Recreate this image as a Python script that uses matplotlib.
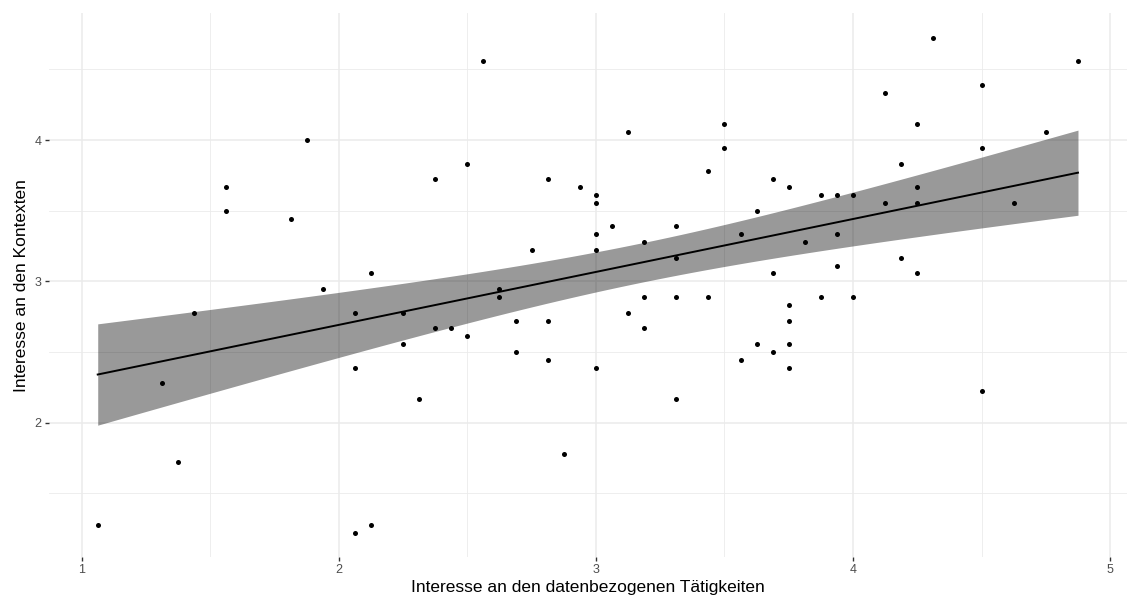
import numpy as np
import matplotlib
matplotlib.use("Agg")
import matplotlib.pyplot as plt

# Interesse an den datenbezogenen Taetigkeiten (x) / Interesse an den Kontexten (y)
x_vals = [1.0625, 1.3125, 1.375, 1.4375, 1.5625, 1.5625, 1.8125, 1.875, 1.9375,
          2.0625, 2.0625, 2.0625, 2.125, 2.125, 2.25, 2.25, 2.3125, 2.375, 2.375,
          2.4375, 2.5, 2.5, 2.5625, 2.625, 2.625, 2.6875, 2.6875, 2.75, 2.8125,
          2.8125, 2.8125, 2.875, 2.9375, 3.0, 3.0, 3.0, 3.0, 3.0, 3.0625, 3.125,
          3.125, 3.1875, 3.1875, 3.1875, 3.3125, 3.3125, 3.3125, 3.3125, 3.4375,
          3.4375, 3.5, 3.5, 3.5625, 3.5625, 3.625, 3.625, 3.6875, 3.6875, 3.6875,
          3.75, 3.75, 3.75, 3.75, 3.75, 3.8125, 3.875, 3.875, 3.9375, 3.9375,
          3.9375, 4.0, 4.0, 4.125, 4.125, 4.1875, 4.1875, 4.25, 4.25, 4.25, 4.25,
          4.3125, 4.5, 4.5, 4.5, 4.625, 4.75, 4.875]
y_vals = [1.278, 2.278, 1.722, 2.778, 3.667, 3.5, 3.444, 4.0, 2.944,
          2.778, 2.389, 1.222, 3.056, 1.278, 2.778, 2.556, 2.167, 3.722, 2.667,
          2.667, 3.833, 2.611, 4.556, 2.944, 2.889, 2.722, 2.5, 3.222, 3.722,
          2.722, 2.444, 1.778, 3.667, 3.611, 3.556, 3.333, 3.222, 2.389, 3.389, 4.056,
          2.778, 3.278, 2.889, 2.667, 3.389, 3.167, 2.889, 2.167, 3.778,
          2.889, 4.111, 3.944, 3.333, 2.444, 3.5, 2.556, 3.722, 3.056, 2.5,
          3.667, 2.833, 2.722, 2.556, 2.389, 3.278, 3.611, 2.889, 3.611, 3.333,
          3.111, 3.611, 2.889, 4.333, 3.556, 3.833, 3.167, 4.111, 3.667, 3.556, 3.056,
          4.722, 4.389, 3.944, 2.222, 3.556, 4.056, 4.556]

x_ticks = [1, 2, 3, 4, 5]
y_ticks = [2, 3, 4]

x = np.array(x_vals)
y = np.array(y_vals)
n = len(x)

# lm fit + 95% CI (like geom_smooth(method="lm"))
b1, b0 = np.polyfit(x, y, 1)
resid = y - (b0 + b1 * x)
s = np.sqrt(np.sum(resid ** 2) / (n - 2))
t_q = 1.988  # qt(0.975, df=85)
xs = np.linspace(x.min(), x.max(), 80)
fit = b0 + b1 * xs
se = s * np.sqrt(1 / n + (xs - x.mean()) ** 2 / np.sum((x - x.mean()) ** 2))

plt.rcParams['font.family'] = ['Liberation Sans', 'DejaVu Sans']

fig = plt.figure(figsize=(11.27, 5.99), dpi=100)
ax = fig.add_axes([48.7 / 1127, 1 - 557.3 / 599, (1127 - 48.7) / 1127, 544 / 599])

xr = x.max() - x.min()
yr = y.max() - y.min()
ax.set_xlim(x.min() - 0.05 * xr, x.max() + 0.05 * xr)
ax.set_ylim(y.min() - 0.05 * yr, y.max() + 0.05 * yr)

ax.set_xticks(x_ticks)
ax.set_yticks(y_ticks)
ax.set_xticks([1.5, 2.5, 3.5, 4.5], minor=True)
ax.set_yticks([1.5, 2.5, 3.5, 4.5], minor=True)
ax.grid(True, which='major', color='#EBEBEB', linewidth=1.1, zorder=0)
ax.grid(True, which='minor', color='#EBEBEB', linewidth=0.6, zorder=0)
ax.set_axisbelow(True)
for sp in ax.spines.values():
    sp.set_visible(False)
ax.tick_params(which='major', length=3, width=1.0, color='#333333',
               labelsize=9, labelcolor='#4D4D4D', pad=2)
ax.tick_params(which='minor', length=0)

ax.scatter(x, y, s=13, color='black', zorder=3, linewidths=0)
ax.fill_between(xs, fit - t_q * se, fit + t_q * se, color='black', alpha=0.4,
                linewidth=0, zorder=2)
ax.plot(xs, fit, color='black', linewidth=1.4, zorder=4)

ax.set_xlabel('Interesse an den datenbezogenen Tätigkeiten', fontsize=12.5, labelpad=3)
ax.set_ylabel('Interesse an den Kontexten', fontsize=12.5, labelpad=4)

fig.savefig('out.png', dpi=100)
